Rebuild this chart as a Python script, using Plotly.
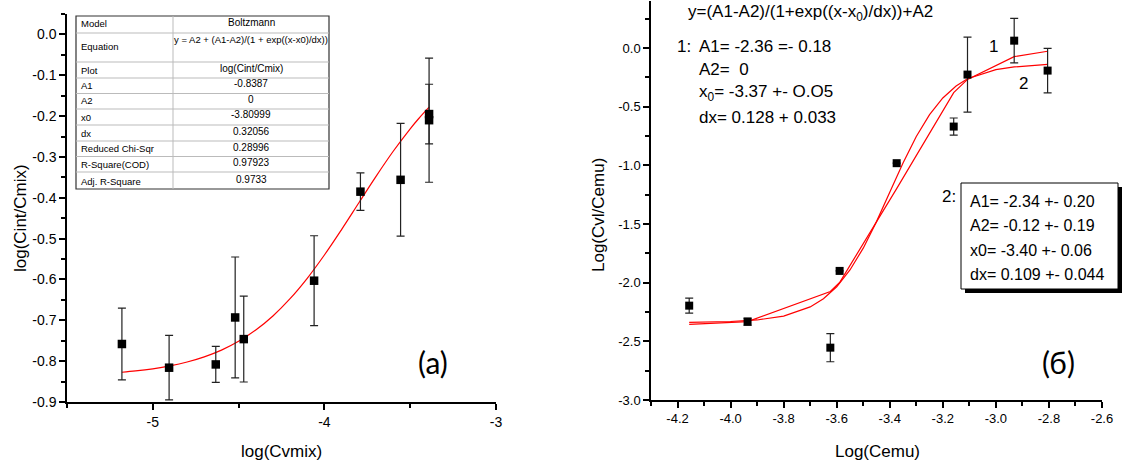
import plotly.graph_objects as go

W, H = 1123, 464

# ---------------- data: panel (a) ----------------
a_x = [-5.18, -4.905, -4.633, -4.52, -4.47, -4.06, -3.79, -3.556, -3.39, -3.39]
a_y = [-0.758, -0.816, -0.808, -0.693, -0.746, -0.603, -0.385, -0.356, -0.21, -0.195]
a_err = [0.088, 0.079, 0.044, 0.148, 0.105, 0.110, 0.046, 0.138, 0.152, 0.073]

# Boltzmann fit curve of panel (a)
a_fit_x = [-5.18, -5.1, -5.0, -4.9, -4.8, -4.7, -4.6, -4.5, -4.4, -4.3, -4.2, -4.1,
           -4.0, -3.9, -3.8, -3.7, -3.6, -3.5, -3.45, -3.39]
a_fit_y = [-0.8272, -0.8240, -0.8187, -0.8116, -0.8021, -0.7895, -0.7730, -0.7514,
           -0.7238, -0.6893, -0.6470, -0.5971, -0.5401, -0.4778, -0.4128, -0.3481,
           -0.2867, -0.2310, -0.2059, -0.1782]

a_xtick_vals = [-5, -4, -3]
a_xtick_text = ["-5", "-4", "-3"]
a_ytick_vals = [0.0, -0.1, -0.2, -0.3, -0.4, -0.5, -0.6, -0.7, -0.8, -0.9]
a_ytick_text = ["0.0", "-0.1", "-0.2", "-0.3", "-0.4", "-0.5", "-0.6", "-0.7", "-0.8", "-0.9"]

table_labels = ["Model", "Equation", "Plot", "A1", "A2", "x0", "dx",
                "Reduced Chi-Sqr", "R-Square(COD)", "Adj. R-Square"]
table_values = ["Boltzmann", "y = A2 + (A1-A2)/(1 + exp((x-x0)/dx))", "log(Cint/Cmix)",
                "-0.8387", "0", "-3.80999", "0.32056", "0.28996", "0.97923", "0.9733"]

# ---------------- data: panel (б) ----------------
b_x = [-4.156, -3.936, -3.624, -3.589, -3.374, -3.159, -3.107, -2.931, -2.805]
b_y = [-2.196, -2.333, -2.554, -1.900, -0.982, -0.670, -0.227, 0.062, -0.193]
b_err = [0.064, 0.030, 0.120, 0.0, 0.0, 0.073, 0.320, 0.190, 0.190]

# fit curve 1 (segments through the data abscissas)
b_fit1_x = [-4.156, -3.936, -3.624, -3.589, -3.374, -3.159, -3.107, -2.931, -2.805]
b_fit1_y = [-2.355, -2.332, -2.075, -1.999, -1.199, -0.381, -0.268, -0.074, -0.028]
# fit curve 2 (smooth)
b_fit2_x = [-4.156, -4.0, -3.9, -3.8, -3.7, -3.65, -3.6, -3.55, -3.5, -3.45, -3.4,
            -3.35, -3.3, -3.25, -3.2, -3.15, -3.107, -3.0, -2.931, -2.805]
b_fit2_y = [-2.338, -2.331, -2.318, -2.285, -2.207, -2.137, -2.035, -1.892, -1.706,
            -1.480, -1.230, -0.980, -0.754, -0.568, -0.426, -0.324, -0.262, -0.185,
            -0.162, -0.140]

b_xtick_vals = [-4.2, -4.0, -3.8, -3.6, -3.4, -3.2, -3.0, -2.8, -2.6]
b_xtick_text = ["-4.2", "-4.0", "-3.8", "-3.6", "-3.4", "-3.2", "-3.0", "-2.8", "-2.6"]
b_ytick_vals = [0.0, -0.5, -1.0, -1.5, -2.0, -2.5, -3.0]
b_ytick_text = ["0.0", "-0.5", "-1.0", "-1.5", "-2.0", "-2.5", "-3.0"]

fit1_lines = ["1:", "A1= -2.36 =- 0.18", "A2=  0", "x<sub>0</sub>= -3.37 +- O.O5", "dx= 0.128 + 0.033"]
fit2_lines = ["A1= -2.34 +- 0.20", "A2= -0.12 +- 0.19", "x0= -3.40 +- 0.06", "dx= 0.109 +- 0.044"]
equation_b = "y=(A1-A2)/(1+exp((x-x<sub>0</sub>)/dx))+A2"


def px(x):
    return x / W


def py(y):
    return 1 - y / H


ARIAL = "Liberation Sans, Arial, sans-serif"
NARROW = "Liberation Sans Narrow, Arial Narrow, Liberation Sans, sans-serif"
RED = "#ff0000"

fig = go.Figure()

# panel (a)
fig.add_trace(go.Scatter(x=a_fit_x, y=a_fit_y, mode="lines", line=dict(color=RED, width=1.2, shape="spline"),
                         xaxis="x", yaxis="y", showlegend=False, hoverinfo="skip"))
fig.add_trace(go.Scatter(x=a_x, y=a_y, mode="markers",
                         marker=dict(symbol="square", size=8.5, color="black"),
                         error_y=dict(type="data", array=a_err, color="#222", thickness=1.2, width=4),
                         xaxis="x", yaxis="y", showlegend=False))

# panel (б)
fig.add_trace(go.Scatter(x=b_fit1_x, y=b_fit1_y, mode="lines", line=dict(color=RED, width=1.2),
                         xaxis="x2", yaxis="y2", showlegend=False, hoverinfo="skip"))
fig.add_trace(go.Scatter(x=b_fit2_x, y=b_fit2_y, mode="lines", line=dict(color=RED, width=1.2),
                         xaxis="x2", yaxis="y2", showlegend=False, hoverinfo="skip"))
fig.add_trace(go.Scatter(x=b_x, y=b_y, mode="markers",
                         marker=dict(symbol="square", size=8, color="black"),
                         error_y=dict(type="data", array=b_err, color="#222", thickness=1.2, width=4),
                         xaxis="x2", yaxis="y2", showlegend=False))

axis_common = dict(showgrid=False, zeroline=False, showline=True, linecolor="black", linewidth=1.5,
                   ticks="outside", ticklen=6, tickwidth=1.5, tickcolor="black", mirror=False,
                   automargin=False)

fig.update_layout(
    width=W, height=H,
    margin=dict(l=0, r=0, t=0, b=0),
    paper_bgcolor="white", plot_bgcolor="white",
    xaxis=dict(domain=[px(67), px(496)], range=[-5.5, -3], anchor="y",
               tickvals=a_xtick_vals, ticktext=a_xtick_text,
               minor=dict(dtick=0.5, tick0=0, ticks="outside", ticklen=4, tickcolor="black"),
               tickfont=dict(family=ARIAL, size=14, color="black"), **axis_common),
    yaxis=dict(domain=[py(402), py(14)], range=[-0.9, 0.05], anchor="x",
               tickvals=a_ytick_vals, ticktext=a_ytick_text,
               minor=dict(dtick=0.05, tick0=0, ticks="outside", ticklen=4, tickcolor="black"),
               tickfont=dict(family=ARIAL, size=14, color="black"), **axis_common),
    xaxis2=dict(domain=[px(651), px(1102)], range=[-4.3, -2.6], anchor="y2",
                tickvals=b_xtick_vals, ticktext=b_xtick_text,
                minor=dict(dtick=0.1, tick0=0, ticks="outside", ticklen=4, tickcolor="black"),
                tickfont=dict(family=NARROW, size=13, color="black"), **axis_common),
    yaxis2=dict(domain=[py(400), py(1)], range=[-3.0, 0.4], anchor="x2",
                tickvals=b_ytick_vals, ticktext=b_ytick_text,
                minor=dict(dtick=0.25, tick0=0, ticks="outside", ticklen=4, tickcolor="black"),
                tickfont=dict(family=NARROW, size=13, color="black"), **axis_common),
)

ann = []
shapes = []


def text(x, y, s, size, family, xanchor="left", textangle=0):
    ann.append(dict(xref="paper", yref="paper", x=px(x), y=py(y), text=s, showarrow=False,
                    xanchor=xanchor, yanchor="middle", textangle=textangle,
                    font=dict(family=family, size=size, color="black")))


# axis titles
text(20, 218, "log(Cint/Cmix)", 17, ARIAL, xanchor="center", textangle=-90)
text(281, 451, "log(Cvmix)", 17, ARIAL, xanchor="center")
text(598, 215, "Log(Cvl/Cemu)", 17, NARROW, xanchor="center", textangle=-90)
text(877, 451, "Log(Cemu)", 17, NARROW, xanchor="center")

# panel labels
text(433, 362, "(a)", 30, "Lato, DejaVu Sans, sans-serif", xanchor="center")
text(1058, 362, "(б)", 30, "Lato, DejaVu Sans, sans-serif", xanchor="center")

# ---- table in panel (a) ----
tx0, tx1, tdiv = 76, 329, 173
row_lines = [16, 33, 62, 78, 93.5, 109, 125, 141, 156.5, 172, 189]
shapes.append(dict(type="rect", xref="paper", yref="paper", x0=px(tx0), x1=px(tx1),
                   y0=py(row_lines[-1]), y1=py(row_lines[0]),
                   line=dict(color="#333", width=1.2), fillcolor="white", layer="above"))
for yl in row_lines[1:-1]:
    shapes.append(dict(type="line", xref="paper", yref="paper", x0=px(tx0), x1=px(tx1),
                       y0=py(yl), y1=py(yl), line=dict(color="#bbb", width=1), layer="above"))
shapes.append(dict(type="line", xref="paper", yref="paper", x0=px(tdiv), x1=px(tdiv),
                   y0=py(row_lines[-1]), y1=py(row_lines[0]), line=dict(color="#bbb", width=1),
                   layer="above"))
label_y = [24, 47, 70, 86, 101, 117, 133, 149, 164, 181]
value_y = [23, 39, 68.5, 83.5, 99, 115, 131, 147, 163, 179.5]
for lab, yy in zip(table_labels, label_y):
    text(tx0 + 3, yy, lab, 9.5, ARIAL)
for val, yy in zip(table_values, value_y):
    text((tdiv + tx1) / 2, yy, val, 9.5 if len(val) > 20 else 10, ARIAL, xanchor="center")

# ---- texts in panel (б) ----
text(686, 13, equation_b, 17, NARROW)
text(675, 46, fit1_lines[0], 17, NARROW)
text(697, 46, fit1_lines[1], 17, NARROW)
text(697, 69, fit1_lines[2], 17, NARROW)
text(697, 93, fit1_lines[3], 17, NARROW)
text(697, 117, fit1_lines[4], 17, NARROW)
text(994, 47, "1", 17, NARROW, xanchor="center")
text(1023, 83, "2", 17, NARROW, xanchor="center")

# box 2 with shadow
bx0, bx1, by0, by1 = 961, 1118, 183, 289
shapes.append(dict(type="rect", xref="paper", yref="paper", x0=px(bx0 + 4), x1=px(bx1 + 4),
                   y0=py(by1 + 4), y1=py(by0 + 4), line=dict(color="black", width=0),
                   fillcolor="black", layer="above"))
shapes.append(dict(type="rect", xref="paper", yref="paper", x0=px(bx0), x1=px(bx1),
                   y0=py(by1), y1=py(by0), line=dict(color="black", width=1),
                   fillcolor="white", layer="above"))
text(958, 197, "2:", 17, NARROW, xanchor="right")
for s, yy in zip(fit2_lines, [201, 226, 250, 274]):
    text(968, yy, s, 16, NARROW)

fig.update_layout(annotations=ann, shapes=shapes)
fig.write_html("out.html", config={"displayModeBar": False},
               post_script="document.body.style.margin='0px';document.body.style.overflow='hidden';")
